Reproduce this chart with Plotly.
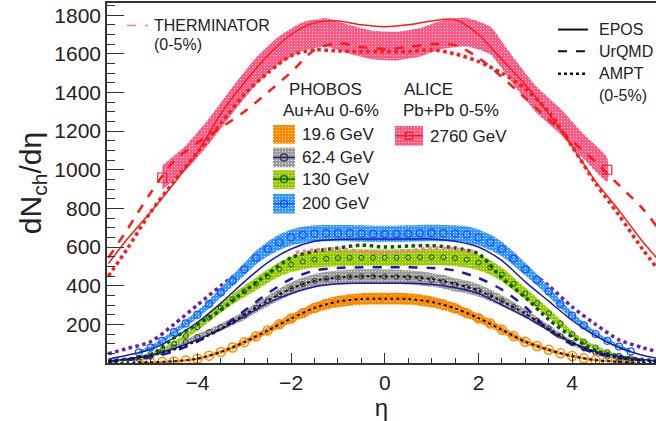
import plotly.graph_objects as go

# ---------------- data ----------------
eta_alice = [-4.75, -4.25, -3.75, -3.25, -2.75, -2.25, -1.75, -1.25, -0.75, -0.25,
             0.25, 0.75, 1.25, 1.75, 2.25, 2.75, 3.25, 3.75, 4.25, 4.75]
alice_2760 = [960, 1060, 1200, 1360, 1510, 1620, 1690, 1710, 1675, 1645,
              1640, 1660, 1700, 1712, 1670, 1510, 1360, 1250, 1120, 1000]
alice_err = [62, 64, 66, 68, 70, 72, 74, 74, 74, 74,
             74, 74, 74, 74, 72, 70, 68, 66, 64, 62]

eta_phobos = [-5.25, -5.0, -4.75, -4.5, -4.25, -4.0, -3.75, -3.5, -3.25, -3.0, -2.75,
              -2.5, -2.25, -2.0, -1.75, -1.5, -1.25, -1.0, -0.75, -0.5, -0.25, 0.0,
              0.25, 0.5, 0.75, 1.0, 1.25, 1.5, 1.75, 2.0, 2.25, 2.5, 2.75,
              3.0, 3.25, 3.5, 3.75, 4.0, 4.25, 4.5, 4.75, 5.0, 5.25]
phobos_19 = [2, 3, 5, 8, 13, 22, 38, 57, 80, 108, 138,
             168, 200, 230, 258, 285, 305, 318, 326, 331, 333, 333,
             333, 331, 326, 316, 302, 283, 258, 232, 204, 172, 140,
             110, 88, 68, 50, 36, 24, 15, 11, 6, 4]
phobos_62 = [18, 32, 55, 80, 108, 135, 160, 185, 215, 245, 285,
             320, 355, 385, 408, 425, 436, 442, 446, 448, 448, 447,
             446, 443, 438, 430, 420, 405, 393, 375, 350, 322, 290,
             255, 218, 180, 140, 103, 75, 52, 33, 20, 12]
phobos_130 = [28, 45, 68, 100, 140, 185, 235, 285, 330, 370, 410,
              448, 485, 510, 525, 535, 540, 543, 545, 545, 545, 545,
              545, 546, 547, 548, 547, 543, 535, 520, 495, 458, 410,
              360, 310, 258, 205, 150, 110, 80, 56, 38, 25]
phobos_200 = [55, 80, 115, 160, 205, 250, 305, 365, 425, 485, 545,
              590, 625, 650, 663, 670, 672, 672, 672, 670, 668, 668,
              668, 670, 672, 673, 672, 670, 665, 650, 625, 590, 540,
              485, 430, 370, 305, 245, 195, 150, 115, 85, 60]
# relative systematic uncertainty of each PHOBOS set
rel_err_19, rel_err_62, rel_err_130, rel_err_200 = 0.075, 0.072, 0.068, 0.056

eta_model = [-5.9, -5.5, -5.0, -4.5, -4.0, -3.5, -3.0, -2.5, -2.0, -1.5, -1.0, -0.5, 0.0,
             0.5, 1.0, 1.5, 2.0, 2.5, 3.0, 3.5, 4.0, 4.5, 5.0, 5.5, 5.8]
epos_2760 = [515, 640, 780, 930, 1090, 1290, 1450, 1590, 1700, 1760, 1770, 1750, 1740,
             1750, 1770, 1778, 1700, 1570, 1440, 1290, 1120, 940, 790, 630, 545]
urqmd_2760 = [545, 690, 880, 1045, 1140, 1218, 1300, 1400, 1505, 1620, 1655, 1635, 1625,
              1635, 1650, 1645, 1580, 1480, 1370, 1260, 1150, 1040, 920, 800, 708]
ampt_2760 = [450, 590, 780, 940, 1090, 1240, 1390, 1500, 1590, 1620, 1615, 1612, 1612,
             1612, 1620, 1600, 1560, 1500, 1420, 1300, 1120, 930, 765, 590, 495]
epos_200 = [20, 40, 70, 130, 210, 310, 420, 520, 590, 630, 640, 642, 642,
            642, 642, 630, 600, 530, 420, 320, 220, 140, 80, 40, 25]
ampt_200 = [48, 75, 110, 200, 300, 400, 490, 570, 620, 640, 650, 650, 650,
            650, 650, 640, 620, 570, 490, 400, 290, 200, 120, 80, 60]
ampt_130 = [10, 20, 40, 130, 200, 275, 370, 460, 545, 578, 595, 610, 600,
            605, 607, 595, 565, 440, 340, 225, 135, 65, 35, 18, 12]
urqmd_62 = [8, 15, 30, 60, 110, 180, 270, 360, 435, 478, 492, 495, 495,
            495, 492, 478, 440, 380, 290, 170, 95, 50, 28, 15, 8]
epos_62 = [10, 20, 40, 75, 120, 175, 240, 310, 360, 395, 410, 413, 413,
           413, 408, 390, 360, 300, 240, 170, 105, 60, 35, 18, 12]
ampt_62 = [10, 20, 40, 70, 115, 175, 250, 322, 385, 425, 442, 448, 448,
           446, 435, 410, 375, 320, 255, 178, 105, 55, 25, 12, 8]
ampt_19 = [1, 2, 4, 9, 22, 57, 108, 168, 230, 285, 318, 331, 333,
           331, 316, 283, 232, 172, 110, 68, 36, 15, 6, 2, 1]

eta_therm = [-1.9, -1.5, -1.0, -0.5, 0.0, 0.5, 1.0, 1.5, 1.9]
therm = [572, 585, 590, 578, 572, 580, 595, 590, 575]

y_ticks = [200, 400, 600, 800, 1000, 1200, 1400, 1600, 1800]
x_ticks = [-4, -2, 0, 2, 4]

# ---------------- colors ----------------
PINK = "#ff5a86"
ORANGE = "#ff8a00"
GRAY = "#9c9c9c"
GREEN = "#99cc00"
BLUE = "#3399ff"
RED = "#ff1a1a"
NAVY = "#1c1ca8"
PURPLE = "#6e1ea8"
DKGREEN = "#0a5a0a"
MBLUE = "#1a4fff"
TXT = "#222222"
FONT = "Liberation Sans"

fig = go.Figure()


def pattern(color):
    return dict(shape=".", bgcolor=color, fgcolor="white", size=3, solidity=0.1, fillmode="replace")


def band(x, y, err, color):
    up = [a + b for a, b in zip(y, err)]
    lo = [a - b for a, b in zip(y, err)]
    fig.add_trace(go.Scatter(
        x=list(x) + list(x)[::-1], y=up + lo[::-1], mode="lines",
        line=dict(width=0, shape="spline", smoothing=0.5), fill="toself",
        fillcolor=color, fillpattern=pattern(color),
        hoverinfo="skip", showlegend=False))


def rel(y, r):
    return [r * v + 5 for v in y]


def line(x, y, color, dash, width=2.0):
    fig.add_trace(go.Scatter(x=x, y=y, mode="lines",
                             line=dict(color=color, dash=dash, width=width, shape="spline", smoothing=0.8),
                             hoverinfo="skip", showlegend=False))


def markers(x, y, symbol, size, color, lw=1.2):
    fig.add_trace(go.Scatter(x=x, y=y, mode="markers",
                             marker=dict(symbol=symbol, size=size, color=color, line=dict(width=lw, color=color)),
                             showlegend=False, hoverinfo="skip"))


# bands (AMPT 200 lies under the bands, visible only outside them)
band(eta_alice, alice_2760, alice_err, PINK)
line(eta_model, ampt_200, PURPLE, "dot", 3.5)
band(eta_phobos, phobos_200, rel(phobos_200, rel_err_200), BLUE)
band(eta_phobos, phobos_130, rel(phobos_130, rel_err_130), GREEN)
band(eta_phobos, phobos_62, rel(phobos_62, rel_err_62), GRAY)
band(eta_phobos, phobos_19, rel(phobos_19, rel_err_19), ORANGE)

# data markers
markers(eta_phobos, phobos_200, "circle-open", 7, MBLUE)
markers(eta_phobos, phobos_130, "circle-open", 5, DKGREEN, 1)
markers(eta_phobos, phobos_62, "circle-open", 5, "#333333", 1)
markers(eta_phobos, phobos_19, "circle-open", 9, ORANGE, 1.5)
markers([eta_alice[0], eta_alice[-1]], [alice_2760[0], alice_2760[-1]], "square-open", 9, RED)

# model curves
line(eta_model, epos_2760, RED, "solid", 1.5)
line(eta_model, urqmd_2760, RED, "dash", 2.5)
line(eta_model, ampt_2760, RED, "dot", 3.5)
line(eta_model, epos_200, NAVY, "solid", 1.5)
line(eta_model, ampt_130, DKGREEN, "dot", 3.5)
line(eta_model, urqmd_62, NAVY, "dash", 2.5)
line(eta_model, epos_62, NAVY, "solid", 1.5)
line(eta_model, ampt_62, "#111111", "dot", 2.0)
line(eta_model, ampt_19, "#111111", "dot", 2.0)
line(eta_therm, therm, "#ff7799", "dot", 3.5)

# ---------------- legend (overlay axes in pixel units) ----------------
def box(x0, y0, x1, y1, color):
    fig.add_trace(go.Scatter(
        x=[x0, x1, x1, x0, x0], y=[y0, y0, y1, y1, y0], xaxis="x2", yaxis="y2",
        mode="lines", line=dict(width=0), fill="toself", fillcolor=color,
        fillpattern=pattern(color), hoverinfo="skip", showlegend=False))


def seg(x0, x1, y, color, dash, width):
    fig.add_trace(go.Scatter(x=[x0, x1], y=[y, y], xaxis="x2", yaxis="y2", mode="lines",
                             line=dict(color=color, dash=dash, width=width),
                             hoverinfo="skip", showlegend=False))


def mark(x, y, symbol, color, size):
    fig.add_trace(go.Scatter(x=[x], y=[y], xaxis="x2", yaxis="y2", mode="markers",
                             marker=dict(symbol=symbol, size=size, color=color, line=dict(width=1.2, color=color)),
                             hoverinfo="skip", showlegend=False))


def text(x, y, s, size=17, anchor="left"):
    fig.add_annotation(x=x, y=y, xref="x2", yref="y2", text=s, showarrow=False,
                       xanchor=anchor, yanchor="middle", font=dict(family=FONT, size=size, color=TXT))


# THERMINATOR
seg(127, 148, 26, "#ff7799", "dash", 1.5)
text(152, 26, "THERMINATOR", 16)
text(152, 45, "(0-5%)", 16)
# models
seg(558, 588, 30, "#111111", "solid", 2)
seg(558, 588, 52, "#111111", "dash", 2)
seg(558, 588, 75, "#111111", "dot", 2.5)
text(597, 30, "EPOS", 16)
text(597, 52, "UrQMD", 16)
text(597, 75, "AMPT", 16)
text(597, 97, "(0-5%)", 16)
# PHOBOS / ALICE
text(325, 91, "PHOBOS", 17, "center")
text(331, 112, "Au+Au 0-6%", 17, "center")
text(428, 91, "ALICE", 17, "center")
text(451, 112, "Pb+Pb 0-5%", 17, "center")
box(273, 127, 295, 146, ORANGE)
box(273, 150, 295, 170, GRAY)
seg(273, 295, 160, NAVY, "solid", 1.5)
mark(284, 160, "circle-open", "#333333", 7)
box(273, 173, 295, 192, GREEN)
seg(273, 295, 182, DKGREEN, "solid", 1.5)
mark(284, 182, "circle-open", DKGREEN, 7)
box(273, 197, 295, 217, BLUE)
seg(273, 295, 207, MBLUE, "solid", 1.5)
mark(284, 207, "circle-open", MBLUE, 7)
text(300, 137, "19.6 GeV", 17)
text(300, 160, "62.4 GeV", 17)
text(300, 182, "130 GeV", 17)
text(300, 207, "200 GeV", 17)
box(395, 128, 423, 148, PINK)
seg(395, 423, 138, RED, "solid", 1.5)
mark(409, 138, "square-open", RED, 7)
text(428, 139, "2760 GeV", 17)

fig.update_layout(
    width=656, height=421,
    margin=dict(l=107, r=0, t=3, b=52),
    paper_bgcolor="white", plot_bgcolor="white",
    font=dict(family=FONT, color=TXT),
    xaxis=dict(range=[-5.93, 5.79], tickvals=x_ticks, ticks="inside", ticklen=10, tickwidth=1.2,
               tickcolor="#333", showline=True, linecolor="#333", linewidth=1.5, mirror=True,
               showgrid=False, zeroline=False, tickfont=dict(size=21, family=FONT, color=TXT),
               minor=dict(dtick=0.5, ticks="inside", ticklen=5, tickcolor="#333", showgrid=False),
               title=dict(text="η", font=dict(size=24, family=FONT, color=TXT), standoff=10)),
    yaxis=dict(range=[0, 1863], tickvals=y_ticks, ticks="inside", ticklen=17, tickwidth=1.2,
               tickcolor="#333", showline=True, linecolor="#333", linewidth=1.5, mirror=False,
               showgrid=False, zeroline=False, tickfont=dict(size=21, family=FONT, color=TXT),
               minor=dict(dtick=50, ticks="inside", ticklen=8, tickcolor="#333", showgrid=False),
               title=dict(text="dN<sub>ch</sub>/dη", font=dict(size=30, family=FONT, color=TXT), standoff=4)),
    xaxis2=dict(range=[107, 656], overlaying="x", visible=False, fixedrange=True),
    yaxis2=dict(range=[369, 3], overlaying="y", visible=False, fixedrange=True),
    showlegend=False,
)

fig.write_html("out.html")
